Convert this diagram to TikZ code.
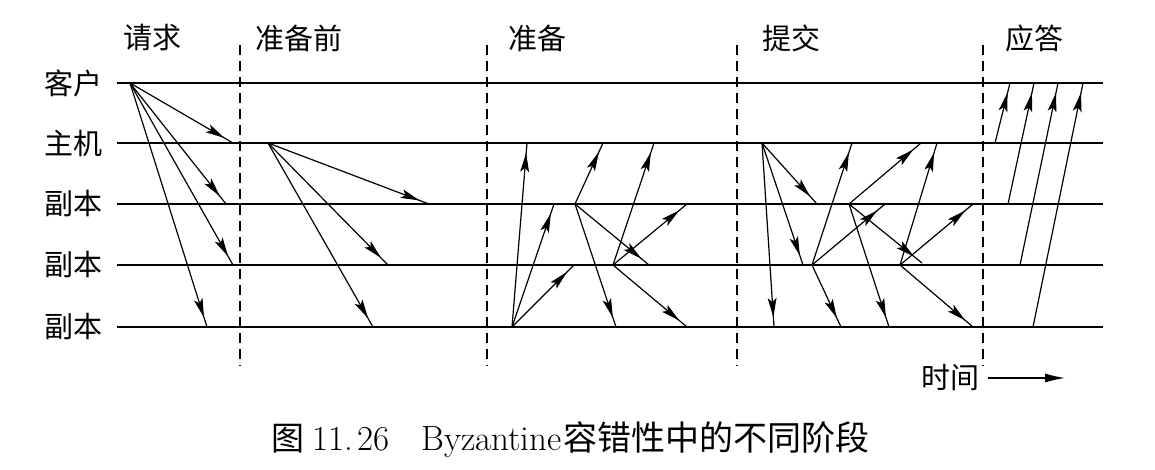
\documentclass[tikz,border=0pt]{standalone}
\usepackage{fontspec}
\newfontfamily\cjk{Noto Sans CJK SC}
\usetikzlibrary{arrows.meta,decorations.markings}

\begin{document}
\begin{tikzpicture}[x=0.5pt,y=-0.5pt,
  row/.style={line width=1pt},
  sep/.style={line width=0.7pt,dash pattern=on 5pt off 3pt},
  msg/.style={line width=0.6pt,postaction={decorate},
    decoration={markings,mark=at position -5pt with {\arrow{Stealth[length=9.5pt,width=4.4pt,inset=2pt]}}}},
  lab/.style={font=\cjk\fontsize{14.5}{17}\selectfont,inner sep=0pt}]
\useasboundingbox (0,0) rectangle (1155,470);
% timelines and phase borders
\foreach \y in {83,143,204,265,327}
  \draw[row] (117,\y) -- (1103,\y);
\foreach \x in {240,487,737,983}
  \draw[sep] (\x,45) -- (\x,366);
% row and phase labels
\node (lclient) [lab] at (73,83) {客户};
\node (lprim) [lab] at (73,143) {主机};
\node (lrep1) [lab] at (73,204) {副本};
\node (lrep2) [lab] at (73,265) {副本};
\node (lrep3) [lab] at (73,327) {副本};
\node (lreq) [lab] at (152,38) {请求};
\node (lpre) [lab] at (299,38) {准备前};
\node (lprep) [lab] at (537,38) {准备};
\node (lcom) [lab] at (791,38) {提交};
\node (lans) [lab] at (1034,38) {应答};
% message end points
\foreach \n/\x/\y in {q0/130/83,q1/233/143,q2/226/204,q3/233/265,q4/207/327,
    p0/268/143,p1/429/204,p2/388/265,p3/373/327,
    a0/512/327,a1/527/143,a2/554/204,a3/574/265,
    b0/575/204,b1/603/143,b2/616/327,b3/649/265,
    c0/613/265,c1/654/143,c2/687/204,c3/687/327,
    d0/762/143,d1/817/204,d2/803/265,d3/774/327,
    e0/812/265,e1/852/143,e2/885/204,e3/841/327,
    f0/849/204,f1/921/143,f2/922/263,f3/889/327,
    g0/900/265,g1/937/143,g2/973/204,g3/973/327,
    h1/995/143,h2/1008/204,h3/1020/265,h4/1033/327,
    k1/1010/83,k2/1034/83,k3/1058/83,k4/1083/83}
  \coordinate (\n) at (\x,\y);
% messages
\foreach \s/\t in {q0/q1,q0/q2,q0/q3,q0/q4,p0/p1,p0/p2,p0/p3,
    a0/a1,a0/a2,a0/a3,b0/b1,b0/b2,b0/b3,c0/c1,c0/c2,c0/c3,
    d0/d1,d0/d2,d0/d3,e0/e1,e0/e2,e0/e3,f0/f1,f0/f2,f0/f3,g0/g1,g0/g2,g0/g3,
    h1/k1,h2/k2,h3/k3,h4/k4}
  \draw[msg] (\s) -- (\t);
% time axis
\node (ltime) [lab] at (950,378) {时间};
\coordinate (tend) at (1065,378);
\draw[line width=0.6pt,-{Latex[length=10pt,width=4.5pt]}] ([xshift=4.5pt]ltime.east) -- (tend);
% caption
\node (cap) [anchor=west,inner sep=0pt,font=\fontsize{17.5}{20}\selectfont] at (271,440)
  {{\cjk\fontsize{16.5}{20}\selectfont 图}\hspace{4pt}11.\hspace{2pt}26\hspace{16pt}Byzantine\hspace{1pt}{\cjk\fontsize{17}{20}\selectfont 容错性中的不同阶段}};
\end{tikzpicture}
\end{document}
